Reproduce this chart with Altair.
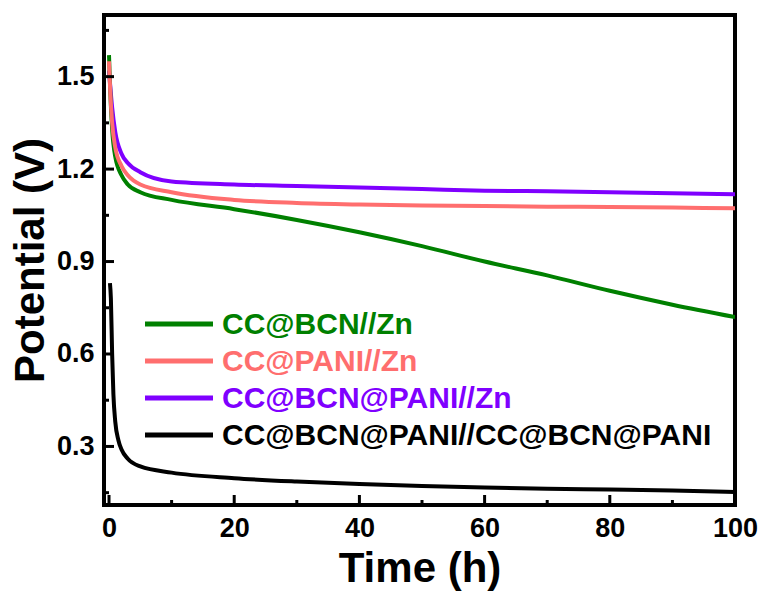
import altair as alt
import pandas as pd

# ---- data ----
series_names = ["CC@BCN//Zn", "CC@PANI//Zn", "CC@BCN@PANI//Zn", "CC@BCN@PANI//CC@BCN@PANI"]
series_colors = ["#008000", "#FF6E6E", "#7F00FF", "#000000"]

t_green = [0, 0.2, 0.5, 1, 2, 3, 5, 10, 20, 30, 40, 50, 60, 70, 80, 90, 100]
v_green = [1.57, 1.45, 1.33, 1.24, 1.18, 1.15, 1.125, 1.10, 1.07, 1.035, 0.995, 0.95, 0.90, 0.855, 0.805, 0.76, 0.72]

t_pink = [0, 0.2, 0.5, 1, 2, 3, 5, 10, 20, 30, 40, 50, 60, 70, 80, 90, 100]
v_pink = [1.55, 1.45, 1.35, 1.27, 1.21, 1.18, 1.15, 1.125, 1.10, 1.09, 1.085, 1.082, 1.08, 1.078, 1.077, 1.075, 1.073]

t_purple = [0, 0.5, 1, 2, 3, 5, 10, 20, 30, 40, 50, 60, 70, 80, 90, 100]
v_purple = [1.52, 1.40, 1.32, 1.25, 1.22, 1.19, 1.16, 1.15, 1.145, 1.14, 1.135, 1.13, 1.128, 1.125, 1.122, 1.118]

t_black = [0.15, 0.3, 0.5, 0.7, 1.0, 1.5, 2, 3, 5, 10, 20, 30, 40, 50, 60, 70, 80, 90, 100]
v_black = [0.83, 0.78, 0.60, 0.47, 0.38, 0.32, 0.29, 0.26, 0.235, 0.215, 0.197, 0.186, 0.178, 0.172, 0.167, 0.163, 0.160, 0.157, 0.152]

x_major = [0, 20, 40, 60, 80, 100]
x_minor = [10, 30, 50, 70, 90]
y_major = [0.3, 0.6, 0.9, 1.2, 1.5]
y_minor = [0.15, 0.45, 0.75, 1.05, 1.35, 1.65]

X_DOMAIN = [-0.8, 100]
Y_DOMAIN = [0.11, 1.70]
FONT = "Liberation Sans"

rows = []
for name, ts, vs in [
    (series_names[2], t_purple, v_purple),
    (series_names[0], t_green, v_green),
    (series_names[1], t_pink, v_pink),
    (series_names[3], t_black, v_black),
]:
    for t, v in zip(ts, vs):
        rows.append({"series": name, "t": t, "v": v})
df = pd.DataFrame(rows)
df["ord"] = df["series"].map({series_names[2]: 0, series_names[0]: 1, series_names[1]: 2, series_names[3]: 3})

color_scale = alt.Scale(domain=series_names, range=series_colors)
xs = alt.Scale(domain=X_DOMAIN, nice=False, zero=False)
ys = alt.Scale(domain=Y_DOMAIN, nice=False, zero=False)

lines = alt.Chart(df).mark_line(strokeWidth=4, interpolate="monotone", clip=True).encode(
    x=alt.X("t:Q", scale=xs, axis=alt.Axis(
        title="Time (h)", values=x_major, ticks=False, domain=False, grid=False,
        labelFontSize=27, labelFontWeight="bold", labelFont=FONT, labelColor="black",
        labelPadding=10, titleFontSize=42, titleFontWeight="bold", titleFont=FONT,
        titleColor="black", titlePadding=7, labelFlush=False)),
    y=alt.Y("v:Q", scale=ys, axis=alt.Axis(
        title="Potential (V)", values=y_major, ticks=False, domain=False, grid=False,
        format=".1f", labelFontSize=27, labelFontWeight="bold", labelFont=FONT,
        labelColor="black", labelPadding=10, titleFontSize=42, titleFontWeight="bold",
        titleFont=FONT, titleColor="black", titlePadding=4, labelFlush=False)),
    color=alt.Color("series:N", scale=color_scale, legend=None),
    order=alt.Order("ord:Q"),
    detail="series:N",
)

# inward tick marks
xt_major = alt.Chart(pd.DataFrame({"t": x_major})).mark_rule(strokeWidth=3, color="black").encode(
    x=alt.X("t:Q", scale=xs), y=alt.value(490), y2=alt.value(480))
xt_minor = alt.Chart(pd.DataFrame({"t": x_minor})).mark_rule(strokeWidth=3, color="black").encode(
    x=alt.X("t:Q", scale=xs), y=alt.value(490), y2=alt.value(485))
yt_major = alt.Chart(pd.DataFrame({"v": y_major})).mark_rule(strokeWidth=3, color="black").encode(
    y=alt.Y("v:Q", scale=ys), x=alt.value(0), x2=alt.value(10))
yt_minor = alt.Chart(pd.DataFrame({"v": y_minor})).mark_rule(strokeWidth=3, color="black").encode(
    y=alt.Y("v:Q", scale=ys), x=alt.value(0), x2=alt.value(5))

main = alt.layer(lines, xt_major, xt_minor, yt_major, yt_minor)

# legend drawn inside plot
leg_df = pd.DataFrame({"series": series_names})
leg_y = alt.Y("series:N", scale=alt.Scale(type="point", domain=series_names, range=[309, 420], padding=0), axis=None)
leg_lines = alt.Chart(leg_df).mark_rule(strokeWidth=5).encode(
    y=leg_y, x=alt.value(41), x2=alt.value(109),
    color=alt.Color("series:N", scale=color_scale, legend=None))
leg_text = alt.Chart(leg_df).mark_text(
    align="left", baseline="middle", fontSize=30, fontWeight="bold", font=FONT, dy=1).encode(
    y=leg_y, x=alt.value(118), text="series:N",
    color=alt.Color("series:N", scale=color_scale, legend=None))
legend = alt.layer(leg_lines, leg_text)

chart = alt.layer(main, legend).resolve_scale(y="independent").properties(
    width=631, height=490,
    autosize=alt.AutoSizeParams(type="none"),
    padding={"left": 104, "top": 15, "right": 28, "bottom": 87},
    background="white",
).configure_view(stroke="black", strokeWidth=4)

chart.save("out.html", embed_options={"renderer": "svg", "actions": False})
